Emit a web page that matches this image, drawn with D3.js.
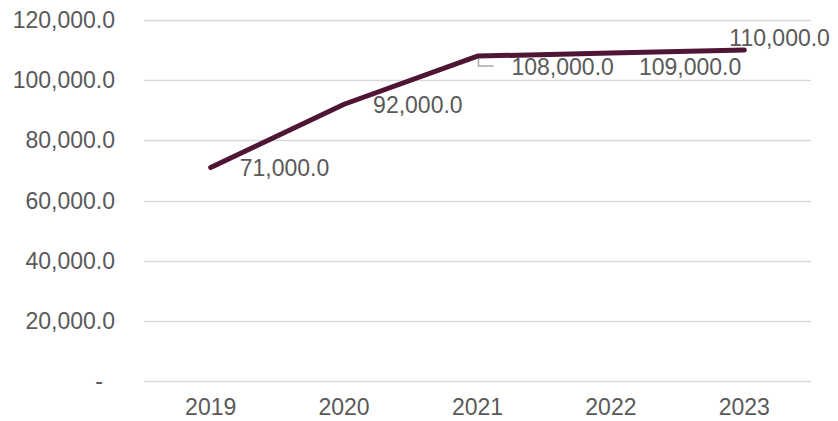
<!DOCTYPE html>
<html lang="en">
	<head>
		<meta charset="UTF-8" />
		<script src="https://d3js.org/d3.v7.min.js"></script>
		<title>Chart</title>
		<style>
			body { margin: 0; background: #fff; }
			text { font-family: "Liberation Sans", Arial, sans-serif; fill: #595959; }
		</style>
	</head>
	<body>
		<svg width="838" height="421"></svg>
		<script>
			const years = ["2019", "2020", "2021", "2022", "2023"];
			const values = [71000, 92000, 108000, 109000, 110000];
			const yTicks = [0, 20000, 40000, 60000, 80000, 100000, 120000];

			// label offsets relative to the point (Excel-style manual placement)
			const labelOffsets = [[29, 1], [29, 1], [34, 11], [28, 14], [-15, -12]];

			const svg = d3.select("svg");
			const x = d3.scaleBand().domain(years).range([144, 811]);
			const y = d3.scaleLinear().domain([0, 120000]).range([381, 20]);
			const fmt = d3.format(",.1f");

			svg.append("g")
				.selectAll("line")
				.data(yTicks)
				.join("line")
				.attr("x1", 144)
				.attr("x2", 811)
				.attr("y1", d => Math.round(y(d)) + 0.5)
				.attr("y2", d => Math.round(y(d)) + 0.5)
				.attr("stroke", "#d9d9d9")
				.attr("stroke-width", 1.3);

			svg.append("g")
				.selectAll("text")
				.data(yTicks)
				.join("text")
				.attr("x", d => (d === 0 ? 103 : 115))
				.attr("y", d => y(d))
				.attr("dy", "0.35em")
				.attr("text-anchor", "end")
				.style("font-size", "23px")
				.text(d => (d === 0 ? "-" : fmt(d)));

			svg.append("g")
				.selectAll("text")
				.data(years)
				.join("text")
				.attr("x", d => x(d) + x.bandwidth() / 2)
				.attr("y", 415)
				.attr("text-anchor", "middle")
				.style("font-size", "23px")
				.text(d => d);

			const pts = years.map((d, i) => [x(d) + x.bandwidth() / 2, y(values[i])]);

			// leader line for 2021 label
			const p2 = pts[2];
			svg.append("path")
				.attr("d", `M${p2[0] + 1},${p2[1] + 1}V${p2[1] + 10}H${p2[0] + 16}`)
				.attr("fill", "none")
				.attr("stroke", "#a6a6a6")
				.attr("stroke-width", 1.5);

			svg.append("path")
				.datum(pts)
				.attr("d", d3.line())
				.attr("fill", "none")
				.attr("stroke", "#4f1534")
				.attr("stroke-width", 5)
				.attr("stroke-linecap", "round")
				.attr("stroke-linejoin", "round");

			svg.append("g")
				.selectAll("text")
				.data(values)
				.join("text")
				.attr("x", (d, i) => pts[i][0] + labelOffsets[i][0])
				.attr("y", (d, i) => pts[i][1] + labelOffsets[i][1])
				.attr("dy", "0.35em")
				.style("font-size", "23px")
				.text(d => fmt(d));
		</script>
	</body>
</html>
